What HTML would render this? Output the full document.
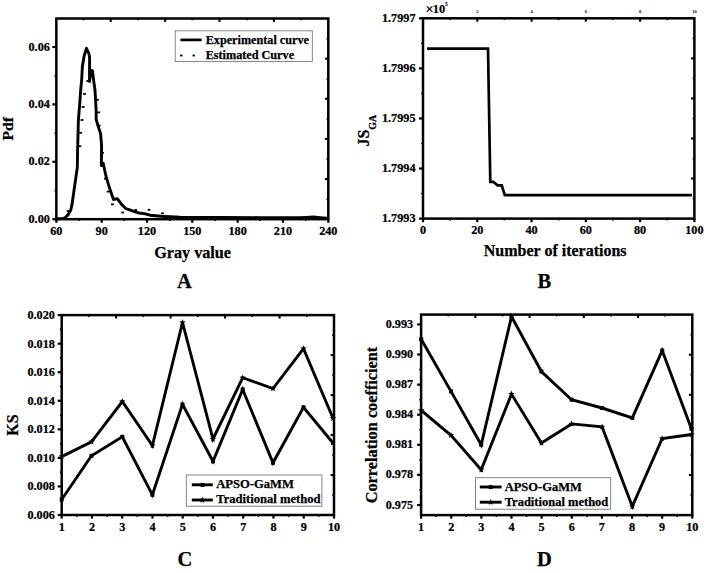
<!DOCTYPE html>
<html><head><meta charset="utf-8"><style>
html,body{margin:0;padding:0;background:#fff;}
body{width:708px;height:573px;overflow:hidden;position:relative;}
svg{position:absolute;left:0;top:0;display:block;}
text{font-family:"Liberation Serif",serif;font-weight:bold;fill:#000;stroke:#000;stroke-width:0.25px;}
</style></head><body>
<svg width="708" height="573" viewBox="0 0 708 573">
<rect x="56.35" y="18.5" width="271.95" height="200.7" fill="none" stroke="#000" stroke-width="2.5"/>
<line x1="56.35" y1="219.2" x2="56.35" y2="222.8" stroke="#000" stroke-width="2.2"/>
<text x="0" y="0" transform="translate(56.35,235) scale(0.955,1)" font-size="12.8" text-anchor="middle" >60</text>
<line x1="101.68" y1="219.2" x2="101.68" y2="222.8" stroke="#000" stroke-width="2.2"/>
<text x="0" y="0" transform="translate(101.68,235) scale(0.955,1)" font-size="12.8" text-anchor="middle" >90</text>
<line x1="147" y1="219.2" x2="147" y2="222.8" stroke="#000" stroke-width="2.2"/>
<text x="0" y="0" transform="translate(147,235) scale(0.955,1)" font-size="12.8" text-anchor="middle" >120</text>
<line x1="192.32" y1="219.2" x2="192.32" y2="222.8" stroke="#000" stroke-width="2.2"/>
<text x="0" y="0" transform="translate(192.32,235) scale(0.955,1)" font-size="12.8" text-anchor="middle" >150</text>
<line x1="237.65" y1="219.2" x2="237.65" y2="222.8" stroke="#000" stroke-width="2.2"/>
<text x="0" y="0" transform="translate(237.65,235) scale(0.955,1)" font-size="12.8" text-anchor="middle" >180</text>
<line x1="282.98" y1="219.2" x2="282.98" y2="222.8" stroke="#000" stroke-width="2.2"/>
<text x="0" y="0" transform="translate(282.98,235) scale(0.955,1)" font-size="12.8" text-anchor="middle" >210</text>
<line x1="328.3" y1="219.2" x2="328.3" y2="222.8" stroke="#000" stroke-width="2.2"/>
<text x="0" y="0" transform="translate(328.3,235) scale(0.955,1)" font-size="12.8" text-anchor="middle" >240</text>
<line x1="79.01" y1="219.2" x2="79.01" y2="221" stroke="#000" stroke-width="1.6"/>
<line x1="124.34" y1="219.2" x2="124.34" y2="221" stroke="#000" stroke-width="1.6"/>
<line x1="169.66" y1="219.2" x2="169.66" y2="221" stroke="#000" stroke-width="1.6"/>
<line x1="214.99" y1="219.2" x2="214.99" y2="221" stroke="#000" stroke-width="1.6"/>
<line x1="260.31" y1="219.2" x2="260.31" y2="221" stroke="#000" stroke-width="1.6"/>
<line x1="305.64" y1="219.2" x2="305.64" y2="221" stroke="#000" stroke-width="1.6"/>
<line x1="52.35" y1="219.2" x2="56.35" y2="219.2" stroke="#000" stroke-width="2.2"/>
<text x="0" y="0" transform="translate(49.85,222.7) scale(0.955,1)" font-size="12.8" text-anchor="end" >0.00</text>
<line x1="52.35" y1="161.8" x2="56.35" y2="161.8" stroke="#000" stroke-width="2.2"/>
<text x="0" y="0" transform="translate(49.85,165.3) scale(0.955,1)" font-size="12.8" text-anchor="end" >0.02</text>
<line x1="52.35" y1="104.4" x2="56.35" y2="104.4" stroke="#000" stroke-width="2.2"/>
<text x="0" y="0" transform="translate(49.85,107.9) scale(0.955,1)" font-size="12.8" text-anchor="end" >0.04</text>
<line x1="52.35" y1="47" x2="56.35" y2="47" stroke="#000" stroke-width="2.2"/>
<text x="0" y="0" transform="translate(49.85,50.5) scale(0.955,1)" font-size="12.8" text-anchor="end" >0.06</text>
<line x1="54.55" y1="190.5" x2="56.35" y2="190.5" stroke="#000" stroke-width="1.6"/>
<line x1="54.55" y1="133.1" x2="56.35" y2="133.1" stroke="#000" stroke-width="1.6"/>
<line x1="54.55" y1="75.7" x2="56.35" y2="75.7" stroke="#000" stroke-width="1.6"/>
<line x1="83.55" y1="18.5" x2="83.55" y2="20.3" stroke="#000" stroke-width="1.6"/>
<line x1="328.3" y1="38.57" x2="326.5" y2="38.57" stroke="#000" stroke-width="1.6"/>
<line x1="110.74" y1="18.5" x2="110.74" y2="21.9" stroke="#000" stroke-width="2.1"/>
<line x1="328.3" y1="58.64" x2="324.9" y2="58.64" stroke="#000" stroke-width="2.1"/>
<line x1="137.94" y1="18.5" x2="137.94" y2="20.3" stroke="#000" stroke-width="1.6"/>
<line x1="328.3" y1="78.71" x2="326.5" y2="78.71" stroke="#000" stroke-width="1.6"/>
<line x1="165.13" y1="18.5" x2="165.13" y2="21.9" stroke="#000" stroke-width="2.1"/>
<line x1="328.3" y1="98.78" x2="324.9" y2="98.78" stroke="#000" stroke-width="2.1"/>
<line x1="192.32" y1="18.5" x2="192.32" y2="20.3" stroke="#000" stroke-width="1.6"/>
<line x1="328.3" y1="118.85" x2="326.5" y2="118.85" stroke="#000" stroke-width="1.6"/>
<line x1="219.52" y1="18.5" x2="219.52" y2="21.9" stroke="#000" stroke-width="2.1"/>
<line x1="328.3" y1="138.92" x2="324.9" y2="138.92" stroke="#000" stroke-width="2.1"/>
<line x1="246.71" y1="18.5" x2="246.71" y2="20.3" stroke="#000" stroke-width="1.6"/>
<line x1="328.3" y1="158.99" x2="326.5" y2="158.99" stroke="#000" stroke-width="1.6"/>
<line x1="273.91" y1="18.5" x2="273.91" y2="21.9" stroke="#000" stroke-width="2.1"/>
<line x1="328.3" y1="179.06" x2="324.9" y2="179.06" stroke="#000" stroke-width="2.1"/>
<line x1="301.1" y1="18.5" x2="301.1" y2="20.3" stroke="#000" stroke-width="1.6"/>
<line x1="328.3" y1="199.13" x2="326.5" y2="199.13" stroke="#000" stroke-width="1.6"/>
<polyline points="56.4,218.8 62,218.6 65,217.8 68.2,214.6 70.7,210.2 71.9,205.2 74.4,187.6 77.3,167.6 77.6,150 78,135 78.4,120 79.8,102.9 80.7,90 81.7,79.3 82.4,66.2 84.2,55.7 86.5,48.3 89,54 89.6,57.4 89.5,81.5 90.8,70.5 92.4,70.8 93.7,81 95,90 95.6,100 96.1,110 96.2,119.6 97.8,125.2 100.6,133.6 101.6,146.2 101.3,165.5 103.2,163.2 106,176.2 109.2,187.1 113.5,199.5 117.3,198.7 121.6,204.4 126,208.7 132.5,210.9 139,213 144.4,213.6 150,215.2 161,216.3 180,217.2 220,217.4 260,217.6 299.5,217.7 306,217.4 313.4,216.9 320,217.6 327,218.3" fill="none" stroke="#000" stroke-width="2.9" stroke-linejoin="round" stroke-miterlimit="3"/>
<rect x="66.8" y="210.2" width="2.8" height="1.8" fill="#000"/>
<rect x="78.5" y="145.3" width="2.8" height="1.8" fill="#000"/>
<rect x="79.2" y="131.9" width="2.8" height="1.8" fill="#000"/>
<rect x="80.6" y="119.1" width="2.8" height="1.8" fill="#000"/>
<rect x="81.7" y="106" width="2.8" height="1.8" fill="#000"/>
<rect x="83.1" y="93" width="2.8" height="1.8" fill="#000"/>
<rect x="86.4" y="80.1" width="2.8" height="1.8" fill="#000"/>
<rect x="96.1" y="98.9" width="2.8" height="1.8" fill="#000"/>
<rect x="97.3" y="111.5" width="2.8" height="1.8" fill="#000"/>
<rect x="97.8" y="124.7" width="2.8" height="1.8" fill="#000"/>
<rect x="101.1" y="152" width="2.8" height="1.8" fill="#000"/>
<rect x="104" y="177.7" width="2.8" height="1.8" fill="#000"/>
<rect x="106.7" y="190.7" width="2.8" height="1.8" fill="#000"/>
<rect x="111" y="203.5" width="2.8" height="1.8" fill="#000"/>
<rect x="121.3" y="211.6" width="2.8" height="1.8" fill="#000"/>
<rect x="134.3" y="209.1" width="2.8" height="1.8" fill="#000"/>
<rect x="147.6" y="208.9" width="2.8" height="1.8" fill="#000"/>
<rect x="161.1" y="212.4" width="2.8" height="1.8" fill="#000"/>
<rect x="175.2" y="30.8" width="137.1" height="30.6" fill="#fff" stroke="#777" stroke-width="0.9"/>
<line x1="180.4" y1="39.9" x2="201.6" y2="39.9" stroke="#000" stroke-width="2.7"/>
<rect x="180.1" y="54.6" width="2.4" height="1.8" fill="#000"/>
<rect x="192.5" y="54.6" width="2.4" height="1.8" fill="#000"/>
<text x="205.7" y="43.7" font-size="12.2" text-anchor="start" >Experimental curve</text>
<text x="205.7" y="58.9" font-size="12.2" text-anchor="start" >Estimated Curve</text>
<text x="192.6" y="258.2" font-size="16.2" text-anchor="middle" >Gray value</text>
<text x="184.4" y="288.4" font-size="20.5" text-anchor="middle" >A</text>
<text x="0" y="0" font-size="15.6" text-anchor="middle" transform="translate(13.2,128.8) rotate(-90)">Pdf</text>
<rect x="423" y="18.3" width="271.4" height="200.3" fill="none" stroke="#000" stroke-width="2.5"/>
<line x1="423" y1="218.6" x2="423" y2="222.2" stroke="#000" stroke-width="2.2"/>
<text x="0" y="0" transform="translate(423,234.2) scale(0.955,1)" font-size="12.8" text-anchor="middle" >0</text>
<line x1="477.28" y1="218.6" x2="477.28" y2="222.2" stroke="#000" stroke-width="2.2"/>
<text x="0" y="0" transform="translate(477.28,234.2) scale(0.955,1)" font-size="12.8" text-anchor="middle" >20</text>
<text x="477.28" y="13.3" font-size="4.5" text-anchor="middle" fill="#aaa" font-weight="normal" style="stroke:none">2</text>
<line x1="531.56" y1="218.6" x2="531.56" y2="222.2" stroke="#000" stroke-width="2.2"/>
<text x="0" y="0" transform="translate(531.56,234.2) scale(0.955,1)" font-size="12.8" text-anchor="middle" >40</text>
<text x="531.56" y="13.3" font-size="4.5" text-anchor="middle" fill="#aaa" font-weight="normal" style="stroke:none">4</text>
<line x1="585.84" y1="218.6" x2="585.84" y2="222.2" stroke="#000" stroke-width="2.2"/>
<text x="0" y="0" transform="translate(585.84,234.2) scale(0.955,1)" font-size="12.8" text-anchor="middle" >60</text>
<text x="585.84" y="13.3" font-size="4.5" text-anchor="middle" fill="#aaa" font-weight="normal" style="stroke:none">6</text>
<line x1="640.12" y1="218.6" x2="640.12" y2="222.2" stroke="#000" stroke-width="2.2"/>
<text x="0" y="0" transform="translate(640.12,234.2) scale(0.955,1)" font-size="12.8" text-anchor="middle" >80</text>
<text x="640.12" y="13.3" font-size="4.5" text-anchor="middle" fill="#aaa" font-weight="normal" style="stroke:none">8</text>
<line x1="694.4" y1="218.6" x2="694.4" y2="222.2" stroke="#000" stroke-width="2.2"/>
<text x="0" y="0" transform="translate(694.4,234.2) scale(0.955,1)" font-size="12.8" text-anchor="middle" >100</text>
<text x="694.4" y="13.3" font-size="4.5" text-anchor="middle" fill="#aaa" font-weight="normal" style="stroke:none">10</text>
<line x1="450.14" y1="218.6" x2="450.14" y2="220.4" stroke="#000" stroke-width="1.6"/>
<line x1="504.42" y1="218.6" x2="504.42" y2="220.4" stroke="#000" stroke-width="1.6"/>
<line x1="558.7" y1="218.6" x2="558.7" y2="220.4" stroke="#000" stroke-width="1.6"/>
<line x1="612.98" y1="218.6" x2="612.98" y2="220.4" stroke="#000" stroke-width="1.6"/>
<line x1="667.26" y1="218.6" x2="667.26" y2="220.4" stroke="#000" stroke-width="1.6"/>
<line x1="419" y1="218.6" x2="423" y2="218.6" stroke="#000" stroke-width="2.2"/>
<text x="0" y="0" transform="translate(415.5,222.1) scale(0.955,1)" font-size="12.8" text-anchor="end" >1.7993</text>
<line x1="419" y1="168.53" x2="423" y2="168.53" stroke="#000" stroke-width="2.2"/>
<text x="0" y="0" transform="translate(415.5,172.03) scale(0.955,1)" font-size="12.8" text-anchor="end" >1.7994</text>
<line x1="419" y1="118.45" x2="423" y2="118.45" stroke="#000" stroke-width="2.2"/>
<text x="0" y="0" transform="translate(415.5,121.95) scale(0.955,1)" font-size="12.8" text-anchor="end" >1.7995</text>
<line x1="419" y1="68.38" x2="423" y2="68.38" stroke="#000" stroke-width="2.2"/>
<text x="0" y="0" transform="translate(415.5,71.88) scale(0.955,1)" font-size="12.8" text-anchor="end" >1.7996</text>
<line x1="419" y1="18.3" x2="423" y2="18.3" stroke="#000" stroke-width="2.2"/>
<text x="0" y="0" transform="translate(415.5,21.8) scale(0.955,1)" font-size="12.8" text-anchor="end" >1.7997</text>
<line x1="421.2" y1="193.56" x2="423" y2="193.56" stroke="#000" stroke-width="1.6"/>
<line x1="421.2" y1="143.49" x2="423" y2="143.49" stroke="#000" stroke-width="1.6"/>
<line x1="421.2" y1="93.41" x2="423" y2="93.41" stroke="#000" stroke-width="1.6"/>
<line x1="421.2" y1="43.34" x2="423" y2="43.34" stroke="#000" stroke-width="1.6"/>
<line x1="450.14" y1="18.3" x2="450.14" y2="20.1" stroke="#000" stroke-width="1.6"/>
<line x1="694.4" y1="38.33" x2="692.6" y2="38.33" stroke="#000" stroke-width="1.6"/>
<line x1="477.28" y1="18.3" x2="477.28" y2="21.7" stroke="#000" stroke-width="2.1"/>
<line x1="694.4" y1="58.36" x2="691" y2="58.36" stroke="#000" stroke-width="2.1"/>
<line x1="504.42" y1="18.3" x2="504.42" y2="20.1" stroke="#000" stroke-width="1.6"/>
<line x1="694.4" y1="78.39" x2="692.6" y2="78.39" stroke="#000" stroke-width="1.6"/>
<line x1="531.56" y1="18.3" x2="531.56" y2="21.7" stroke="#000" stroke-width="2.1"/>
<line x1="694.4" y1="98.42" x2="691" y2="98.42" stroke="#000" stroke-width="2.1"/>
<line x1="558.7" y1="18.3" x2="558.7" y2="20.1" stroke="#000" stroke-width="1.6"/>
<line x1="694.4" y1="118.45" x2="692.6" y2="118.45" stroke="#000" stroke-width="1.6"/>
<line x1="585.84" y1="18.3" x2="585.84" y2="21.7" stroke="#000" stroke-width="2.1"/>
<line x1="694.4" y1="138.48" x2="691" y2="138.48" stroke="#000" stroke-width="2.1"/>
<line x1="612.98" y1="18.3" x2="612.98" y2="20.1" stroke="#000" stroke-width="1.6"/>
<line x1="694.4" y1="158.51" x2="692.6" y2="158.51" stroke="#000" stroke-width="1.6"/>
<line x1="640.12" y1="18.3" x2="640.12" y2="21.7" stroke="#000" stroke-width="2.1"/>
<line x1="694.4" y1="178.54" x2="691" y2="178.54" stroke="#000" stroke-width="2.1"/>
<line x1="667.26" y1="18.3" x2="667.26" y2="20.1" stroke="#000" stroke-width="1.6"/>
<line x1="694.4" y1="198.57" x2="692.6" y2="198.57" stroke="#000" stroke-width="1.6"/>
<polyline points="427,48.6 488,48.6 490.3,181.8 493.3,181.8 497.5,185.3 501.7,185.3 504.8,195.2 692,195.2" fill="none" stroke="#000" stroke-width="2.7" stroke-linejoin="miter" stroke-miterlimit="3"/>
<text x="425.2" y="14.1" font-size="15" text-anchor="start" font-weight="normal" style="stroke-width:0.1px">×</text>
<text x="432.8" y="12.7" font-size="12.5" text-anchor="start" font-weight="normal" style="stroke-width:0.15px">10</text>
<text x="444.9" y="5.7" font-size="5.5" text-anchor="start" font-weight="normal" style="stroke-width:0.1px">5</text>
<text x="555.2" y="255.5" font-size="16" text-anchor="middle" >Number of iterations</text>
<text x="544.4" y="288.4" font-size="20.5" text-anchor="middle" >B</text>
<text x="0" y="0" font-size="16" transform="translate(368.7,146.6) rotate(-90)">JS<tspan font-size="10" dy="6.8">GA</tspan></text>
<rect x="61.7" y="315.1" width="272.3" height="199.9" fill="none" stroke="#000" stroke-width="2.5"/>
<line x1="61.7" y1="515" x2="61.7" y2="518.6" stroke="#000" stroke-width="2.2"/>
<text x="0" y="0" transform="translate(61.7,531.3) scale(0.955,1)" font-size="12.8" text-anchor="middle" >1</text>
<line x1="91.96" y1="515" x2="91.96" y2="518.6" stroke="#000" stroke-width="2.2"/>
<text x="0" y="0" transform="translate(91.96,531.3) scale(0.955,1)" font-size="12.8" text-anchor="middle" >2</text>
<line x1="122.21" y1="515" x2="122.21" y2="518.6" stroke="#000" stroke-width="2.2"/>
<text x="0" y="0" transform="translate(122.21,531.3) scale(0.955,1)" font-size="12.8" text-anchor="middle" >3</text>
<line x1="152.47" y1="515" x2="152.47" y2="518.6" stroke="#000" stroke-width="2.2"/>
<text x="0" y="0" transform="translate(152.47,531.3) scale(0.955,1)" font-size="12.8" text-anchor="middle" >4</text>
<line x1="182.72" y1="515" x2="182.72" y2="518.6" stroke="#000" stroke-width="2.2"/>
<text x="0" y="0" transform="translate(182.72,531.3) scale(0.955,1)" font-size="12.8" text-anchor="middle" >5</text>
<line x1="212.98" y1="515" x2="212.98" y2="518.6" stroke="#000" stroke-width="2.2"/>
<text x="0" y="0" transform="translate(212.98,531.3) scale(0.955,1)" font-size="12.8" text-anchor="middle" >6</text>
<line x1="243.23" y1="515" x2="243.23" y2="518.6" stroke="#000" stroke-width="2.2"/>
<text x="0" y="0" transform="translate(243.23,531.3) scale(0.955,1)" font-size="12.8" text-anchor="middle" >7</text>
<line x1="273.49" y1="515" x2="273.49" y2="518.6" stroke="#000" stroke-width="2.2"/>
<text x="0" y="0" transform="translate(273.49,531.3) scale(0.955,1)" font-size="12.8" text-anchor="middle" >8</text>
<line x1="303.74" y1="515" x2="303.74" y2="518.6" stroke="#000" stroke-width="2.2"/>
<text x="0" y="0" transform="translate(303.74,531.3) scale(0.955,1)" font-size="12.8" text-anchor="middle" >9</text>
<line x1="334" y1="515" x2="334" y2="518.6" stroke="#000" stroke-width="2.2"/>
<text x="0" y="0" transform="translate(334,531.3) scale(0.955,1)" font-size="12.8" text-anchor="middle" >10</text>
<line x1="76.83" y1="515" x2="76.83" y2="516.8" stroke="#000" stroke-width="1.6"/>
<line x1="107.08" y1="515" x2="107.08" y2="516.8" stroke="#000" stroke-width="1.6"/>
<line x1="137.34" y1="515" x2="137.34" y2="516.8" stroke="#000" stroke-width="1.6"/>
<line x1="167.59" y1="515" x2="167.59" y2="516.8" stroke="#000" stroke-width="1.6"/>
<line x1="197.85" y1="515" x2="197.85" y2="516.8" stroke="#000" stroke-width="1.6"/>
<line x1="228.11" y1="515" x2="228.11" y2="516.8" stroke="#000" stroke-width="1.6"/>
<line x1="258.36" y1="515" x2="258.36" y2="516.8" stroke="#000" stroke-width="1.6"/>
<line x1="288.62" y1="515" x2="288.62" y2="516.8" stroke="#000" stroke-width="1.6"/>
<line x1="318.87" y1="515" x2="318.87" y2="516.8" stroke="#000" stroke-width="1.6"/>
<line x1="57.7" y1="515" x2="61.7" y2="515" stroke="#000" stroke-width="2.2"/>
<text x="0" y="0" transform="translate(54.9,518.9) scale(0.955,1)" font-size="12.8" text-anchor="end" >0.006</text>
<line x1="57.7" y1="486.44" x2="61.7" y2="486.44" stroke="#000" stroke-width="2.2"/>
<text x="0" y="0" transform="translate(54.9,490.34) scale(0.955,1)" font-size="12.8" text-anchor="end" >0.008</text>
<line x1="57.7" y1="457.89" x2="61.7" y2="457.89" stroke="#000" stroke-width="2.2"/>
<text x="0" y="0" transform="translate(54.9,461.79) scale(0.955,1)" font-size="12.8" text-anchor="end" >0.010</text>
<line x1="57.7" y1="429.33" x2="61.7" y2="429.33" stroke="#000" stroke-width="2.2"/>
<text x="0" y="0" transform="translate(54.9,433.23) scale(0.955,1)" font-size="12.8" text-anchor="end" >0.012</text>
<line x1="57.7" y1="400.77" x2="61.7" y2="400.77" stroke="#000" stroke-width="2.2"/>
<text x="0" y="0" transform="translate(54.9,404.67) scale(0.955,1)" font-size="12.8" text-anchor="end" >0.014</text>
<line x1="57.7" y1="372.21" x2="61.7" y2="372.21" stroke="#000" stroke-width="2.2"/>
<text x="0" y="0" transform="translate(54.9,376.11) scale(0.955,1)" font-size="12.8" text-anchor="end" >0.016</text>
<line x1="57.7" y1="343.66" x2="61.7" y2="343.66" stroke="#000" stroke-width="2.2"/>
<text x="0" y="0" transform="translate(54.9,347.56) scale(0.955,1)" font-size="12.8" text-anchor="end" >0.018</text>
<line x1="57.7" y1="315.1" x2="61.7" y2="315.1" stroke="#000" stroke-width="2.2"/>
<text x="0" y="0" transform="translate(54.9,319) scale(0.955,1)" font-size="12.8" text-anchor="end" >0.020</text>
<line x1="59.9" y1="500.72" x2="61.7" y2="500.72" stroke="#000" stroke-width="1.6"/>
<line x1="59.9" y1="472.16" x2="61.7" y2="472.16" stroke="#000" stroke-width="1.6"/>
<line x1="59.9" y1="443.61" x2="61.7" y2="443.61" stroke="#000" stroke-width="1.6"/>
<line x1="59.9" y1="415.05" x2="61.7" y2="415.05" stroke="#000" stroke-width="1.6"/>
<line x1="59.9" y1="386.49" x2="61.7" y2="386.49" stroke="#000" stroke-width="1.6"/>
<line x1="59.9" y1="357.94" x2="61.7" y2="357.94" stroke="#000" stroke-width="1.6"/>
<line x1="59.9" y1="329.38" x2="61.7" y2="329.38" stroke="#000" stroke-width="1.6"/>
<line x1="88.93" y1="315.1" x2="88.93" y2="316.9" stroke="#000" stroke-width="1.6"/>
<line x1="334" y1="335.09" x2="332.2" y2="335.09" stroke="#000" stroke-width="1.6"/>
<line x1="116.16" y1="315.1" x2="116.16" y2="318.5" stroke="#000" stroke-width="2.1"/>
<line x1="334" y1="355.08" x2="330.6" y2="355.08" stroke="#000" stroke-width="2.1"/>
<line x1="143.39" y1="315.1" x2="143.39" y2="316.9" stroke="#000" stroke-width="1.6"/>
<line x1="334" y1="375.07" x2="332.2" y2="375.07" stroke="#000" stroke-width="1.6"/>
<line x1="170.62" y1="315.1" x2="170.62" y2="318.5" stroke="#000" stroke-width="2.1"/>
<line x1="334" y1="395.06" x2="330.6" y2="395.06" stroke="#000" stroke-width="2.1"/>
<line x1="197.85" y1="315.1" x2="197.85" y2="316.9" stroke="#000" stroke-width="1.6"/>
<line x1="334" y1="415.05" x2="332.2" y2="415.05" stroke="#000" stroke-width="1.6"/>
<line x1="225.08" y1="315.1" x2="225.08" y2="318.5" stroke="#000" stroke-width="2.1"/>
<line x1="334" y1="435.04" x2="330.6" y2="435.04" stroke="#000" stroke-width="2.1"/>
<line x1="252.31" y1="315.1" x2="252.31" y2="316.9" stroke="#000" stroke-width="1.6"/>
<line x1="334" y1="455.03" x2="332.2" y2="455.03" stroke="#000" stroke-width="1.6"/>
<line x1="279.54" y1="315.1" x2="279.54" y2="318.5" stroke="#000" stroke-width="2.1"/>
<line x1="334" y1="475.02" x2="330.6" y2="475.02" stroke="#000" stroke-width="2.1"/>
<line x1="306.77" y1="315.1" x2="306.77" y2="316.9" stroke="#000" stroke-width="1.6"/>
<line x1="334" y1="495.01" x2="332.2" y2="495.01" stroke="#000" stroke-width="1.6"/>
<polyline points="61.7,456.6 91.5,441.8 122.3,401.5 152.4,445.5 182.5,322.5 213,439 242.7,377.7 273,388.6 303.5,348.6 333,418.3" fill="none" stroke="#000" stroke-width="2.9" stroke-linejoin="miter" stroke-miterlimit="3"/>
<polyline points="61.7,499.5 91.5,455.8 122.3,436.8 152.4,494.8 182.5,404.4 213,461.3 242.7,389.5 273,462.8 303.5,407.3 333,443" fill="none" stroke="#000" stroke-width="2.9" stroke-linejoin="miter" stroke-miterlimit="3"/>
<rect x="59.7" y="497.5" width="4" height="4" fill="#000"/>
<rect x="89.5" y="453.8" width="4" height="4" fill="#000"/>
<rect x="120.3" y="434.8" width="4" height="4" fill="#000"/>
<rect x="150.4" y="492.8" width="4" height="4" fill="#000"/>
<rect x="180.5" y="402.4" width="4" height="4" fill="#000"/>
<rect x="211" y="459.3" width="4" height="4" fill="#000"/>
<rect x="240.7" y="387.5" width="4" height="4" fill="#000"/>
<rect x="271" y="460.8" width="4" height="4" fill="#000"/>
<rect x="301.5" y="405.3" width="4" height="4" fill="#000"/>
<rect x="331" y="441" width="4" height="4" fill="#000"/>
<polygon points="61.7,453.3 62.57,455.4 64.84,455.58 63.11,457.06 63.64,459.27 61.7,458.09 59.76,459.27 60.29,457.06 58.56,455.58 60.83,455.4" fill="#000"/>
<polygon points="91.5,438.5 92.37,440.6 94.64,440.78 92.91,442.26 93.44,444.47 91.5,443.29 89.56,444.47 90.09,442.26 88.36,440.78 90.63,440.6" fill="#000"/>
<polygon points="122.3,398.2 123.17,400.3 125.44,400.48 123.71,401.96 124.24,404.17 122.3,402.99 120.36,404.17 120.89,401.96 119.16,400.48 121.43,400.3" fill="#000"/>
<polygon points="152.4,442.2 153.27,444.3 155.54,444.48 153.81,445.96 154.34,448.17 152.4,446.99 150.46,448.17 150.99,445.96 149.26,444.48 151.53,444.3" fill="#000"/>
<polygon points="182.5,319.2 183.37,321.3 185.64,321.48 183.91,322.96 184.44,325.17 182.5,323.99 180.56,325.17 181.09,322.96 179.36,321.48 181.63,321.3" fill="#000"/>
<polygon points="213,435.7 213.87,437.8 216.14,437.98 214.41,439.46 214.94,441.67 213,440.49 211.06,441.67 211.59,439.46 209.86,437.98 212.13,437.8" fill="#000"/>
<polygon points="242.7,374.4 243.57,376.5 245.84,376.68 244.11,378.16 244.64,380.37 242.7,379.19 240.76,380.37 241.29,378.16 239.56,376.68 241.83,376.5" fill="#000"/>
<polygon points="273,385.3 273.87,387.4 276.14,387.58 274.41,389.06 274.94,391.27 273,390.09 271.06,391.27 271.59,389.06 269.86,387.58 272.13,387.4" fill="#000"/>
<polygon points="303.5,345.3 304.37,347.4 306.64,347.58 304.91,349.06 305.44,351.27 303.5,350.09 301.56,351.27 302.09,349.06 300.36,347.58 302.63,347.4" fill="#000"/>
<polygon points="333,415 333.87,417.1 336.14,417.28 334.41,418.76 334.94,420.97 333,419.79 331.06,420.97 331.59,418.76 329.86,417.28 332.13,417.1" fill="#000"/>
<rect x="186.3" y="475" width="135.6" height="31.2" fill="#fff" stroke="#777" stroke-width="0.9"/>
<line x1="191.8" y1="484.8" x2="212.8" y2="484.8" stroke="#000" stroke-width="2.9"/>
<rect x="200.5" y="482.9" width="4" height="4" fill="#000"/>
<line x1="191.8" y1="500" x2="212.8" y2="500" stroke="#000" stroke-width="2.9"/>
<polygon points="202.3,496.7 203.17,498.8 205.44,498.98 203.71,500.46 204.24,502.67 202.3,501.49 200.36,502.67 200.89,500.46 199.16,498.98 201.43,498.8" fill="#000"/>
<text x="216.2" y="488.3" font-size="12.6" text-anchor="start" >APSO-GaMM</text>
<text x="216.2" y="503.4" font-size="12.6" text-anchor="start" >Traditional method</text>
<text x="184.8" y="566.1" font-size="20.5" text-anchor="middle" >C</text>
<text x="0" y="0" font-size="16" text-anchor="middle" transform="translate(18,425) rotate(-90)">KS</text>
<rect x="421.1" y="314.6" width="271.2" height="200.5" fill="none" stroke="#000" stroke-width="2.5"/>
<line x1="421.1" y1="515.1" x2="421.1" y2="518.7" stroke="#000" stroke-width="2.2"/>
<text x="0" y="0" transform="translate(421.1,531.4) scale(0.955,1)" font-size="12.8" text-anchor="middle" >1</text>
<line x1="451.23" y1="515.1" x2="451.23" y2="518.7" stroke="#000" stroke-width="2.2"/>
<text x="0" y="0" transform="translate(451.23,531.4) scale(0.955,1)" font-size="12.8" text-anchor="middle" >2</text>
<line x1="481.37" y1="515.1" x2="481.37" y2="518.7" stroke="#000" stroke-width="2.2"/>
<text x="0" y="0" transform="translate(481.37,531.4) scale(0.955,1)" font-size="12.8" text-anchor="middle" >3</text>
<line x1="511.5" y1="515.1" x2="511.5" y2="518.7" stroke="#000" stroke-width="2.2"/>
<text x="0" y="0" transform="translate(511.5,531.4) scale(0.955,1)" font-size="12.8" text-anchor="middle" >4</text>
<line x1="541.63" y1="515.1" x2="541.63" y2="518.7" stroke="#000" stroke-width="2.2"/>
<text x="0" y="0" transform="translate(541.63,531.4) scale(0.955,1)" font-size="12.8" text-anchor="middle" >5</text>
<line x1="571.77" y1="515.1" x2="571.77" y2="518.7" stroke="#000" stroke-width="2.2"/>
<text x="0" y="0" transform="translate(571.77,531.4) scale(0.955,1)" font-size="12.8" text-anchor="middle" >6</text>
<line x1="601.9" y1="515.1" x2="601.9" y2="518.7" stroke="#000" stroke-width="2.2"/>
<text x="0" y="0" transform="translate(601.9,531.4) scale(0.955,1)" font-size="12.8" text-anchor="middle" >7</text>
<line x1="632.03" y1="515.1" x2="632.03" y2="518.7" stroke="#000" stroke-width="2.2"/>
<text x="0" y="0" transform="translate(632.03,531.4) scale(0.955,1)" font-size="12.8" text-anchor="middle" >8</text>
<line x1="662.17" y1="515.1" x2="662.17" y2="518.7" stroke="#000" stroke-width="2.2"/>
<text x="0" y="0" transform="translate(662.17,531.4) scale(0.955,1)" font-size="12.8" text-anchor="middle" >9</text>
<line x1="692.3" y1="515.1" x2="692.3" y2="518.7" stroke="#000" stroke-width="2.2"/>
<text x="0" y="0" transform="translate(692.3,531.4) scale(0.955,1)" font-size="12.8" text-anchor="middle" >10</text>
<line x1="436.17" y1="515.1" x2="436.17" y2="516.9" stroke="#000" stroke-width="1.6"/>
<line x1="466.3" y1="515.1" x2="466.3" y2="516.9" stroke="#000" stroke-width="1.6"/>
<line x1="496.43" y1="515.1" x2="496.43" y2="516.9" stroke="#000" stroke-width="1.6"/>
<line x1="526.57" y1="515.1" x2="526.57" y2="516.9" stroke="#000" stroke-width="1.6"/>
<line x1="556.7" y1="515.1" x2="556.7" y2="516.9" stroke="#000" stroke-width="1.6"/>
<line x1="586.83" y1="515.1" x2="586.83" y2="516.9" stroke="#000" stroke-width="1.6"/>
<line x1="616.97" y1="515.1" x2="616.97" y2="516.9" stroke="#000" stroke-width="1.6"/>
<line x1="647.1" y1="515.1" x2="647.1" y2="516.9" stroke="#000" stroke-width="1.6"/>
<line x1="677.23" y1="515.1" x2="677.23" y2="516.9" stroke="#000" stroke-width="1.6"/>
<line x1="417.1" y1="505" x2="421.1" y2="505" stroke="#000" stroke-width="2.2"/>
<text x="0" y="0" transform="translate(413.1,508.5) scale(0.955,1)" font-size="12.8" text-anchor="end" >0.975</text>
<line x1="417.1" y1="474.9" x2="421.1" y2="474.9" stroke="#000" stroke-width="2.2"/>
<text x="0" y="0" transform="translate(413.1,478.4) scale(0.955,1)" font-size="12.8" text-anchor="end" >0.978</text>
<line x1="417.1" y1="444.8" x2="421.1" y2="444.8" stroke="#000" stroke-width="2.2"/>
<text x="0" y="0" transform="translate(413.1,448.3) scale(0.955,1)" font-size="12.8" text-anchor="end" >0.981</text>
<line x1="417.1" y1="414.7" x2="421.1" y2="414.7" stroke="#000" stroke-width="2.2"/>
<text x="0" y="0" transform="translate(413.1,418.2) scale(0.955,1)" font-size="12.8" text-anchor="end" >0.984</text>
<line x1="417.1" y1="384.6" x2="421.1" y2="384.6" stroke="#000" stroke-width="2.2"/>
<text x="0" y="0" transform="translate(413.1,388.1) scale(0.955,1)" font-size="12.8" text-anchor="end" >0.987</text>
<line x1="417.1" y1="354.5" x2="421.1" y2="354.5" stroke="#000" stroke-width="2.2"/>
<text x="0" y="0" transform="translate(413.1,358) scale(0.955,1)" font-size="12.8" text-anchor="end" >0.990</text>
<line x1="417.1" y1="324.4" x2="421.1" y2="324.4" stroke="#000" stroke-width="2.2"/>
<text x="0" y="0" transform="translate(413.1,327.9) scale(0.955,1)" font-size="12.8" text-anchor="end" >0.993</text>
<line x1="419.3" y1="489.95" x2="421.1" y2="489.95" stroke="#000" stroke-width="1.6"/>
<line x1="419.3" y1="459.85" x2="421.1" y2="459.85" stroke="#000" stroke-width="1.6"/>
<line x1="419.3" y1="429.75" x2="421.1" y2="429.75" stroke="#000" stroke-width="1.6"/>
<line x1="419.3" y1="399.65" x2="421.1" y2="399.65" stroke="#000" stroke-width="1.6"/>
<line x1="419.3" y1="369.55" x2="421.1" y2="369.55" stroke="#000" stroke-width="1.6"/>
<line x1="419.3" y1="339.45" x2="421.1" y2="339.45" stroke="#000" stroke-width="1.6"/>
<line x1="448.22" y1="314.6" x2="448.22" y2="316.4" stroke="#000" stroke-width="1.6"/>
<line x1="692.3" y1="334.65" x2="690.5" y2="334.65" stroke="#000" stroke-width="1.6"/>
<line x1="475.34" y1="314.6" x2="475.34" y2="318" stroke="#000" stroke-width="2.1"/>
<line x1="692.3" y1="354.7" x2="688.9" y2="354.7" stroke="#000" stroke-width="2.1"/>
<line x1="502.46" y1="314.6" x2="502.46" y2="316.4" stroke="#000" stroke-width="1.6"/>
<line x1="692.3" y1="374.75" x2="690.5" y2="374.75" stroke="#000" stroke-width="1.6"/>
<line x1="529.58" y1="314.6" x2="529.58" y2="318" stroke="#000" stroke-width="2.1"/>
<line x1="692.3" y1="394.8" x2="688.9" y2="394.8" stroke="#000" stroke-width="2.1"/>
<line x1="556.7" y1="314.6" x2="556.7" y2="316.4" stroke="#000" stroke-width="1.6"/>
<line x1="692.3" y1="414.85" x2="690.5" y2="414.85" stroke="#000" stroke-width="1.6"/>
<line x1="583.82" y1="314.6" x2="583.82" y2="318" stroke="#000" stroke-width="2.1"/>
<line x1="692.3" y1="434.9" x2="688.9" y2="434.9" stroke="#000" stroke-width="2.1"/>
<line x1="610.94" y1="314.6" x2="610.94" y2="316.4" stroke="#000" stroke-width="1.6"/>
<line x1="692.3" y1="454.95" x2="690.5" y2="454.95" stroke="#000" stroke-width="1.6"/>
<line x1="638.06" y1="314.6" x2="638.06" y2="318" stroke="#000" stroke-width="2.1"/>
<line x1="692.3" y1="475" x2="688.9" y2="475" stroke="#000" stroke-width="2.1"/>
<line x1="665.18" y1="314.6" x2="665.18" y2="316.4" stroke="#000" stroke-width="1.6"/>
<line x1="692.3" y1="495.05" x2="690.5" y2="495.05" stroke="#000" stroke-width="1.6"/>
<polyline points="421.2,339.2 451,391.4 481.2,444.8 511.5,316.6 541.4,371.5 571.6,399.7 602.1,408 632.3,417.9 662.2,350.6 691.5,428.9" fill="none" stroke="#000" stroke-width="2.9" stroke-linejoin="miter" stroke-miterlimit="3"/>
<polyline points="421.2,410.3 451,435.3 481.2,469.8 511.5,394.1 541.4,443 571.6,423.9 602.1,426.9 632.3,506.4 662.2,438.5 691.5,434.5" fill="none" stroke="#000" stroke-width="2.9" stroke-linejoin="miter" stroke-miterlimit="3"/>
<rect x="419.2" y="337.2" width="4" height="4" fill="#000"/>
<rect x="449" y="389.4" width="4" height="4" fill="#000"/>
<rect x="479.2" y="442.8" width="4" height="4" fill="#000"/>
<rect x="509.5" y="314.6" width="4" height="4" fill="#000"/>
<rect x="539.4" y="369.5" width="4" height="4" fill="#000"/>
<rect x="569.6" y="397.7" width="4" height="4" fill="#000"/>
<rect x="600.1" y="406" width="4" height="4" fill="#000"/>
<rect x="630.3" y="415.9" width="4" height="4" fill="#000"/>
<rect x="660.2" y="348.6" width="4" height="4" fill="#000"/>
<rect x="689.5" y="426.9" width="4" height="4" fill="#000"/>
<polygon points="421.2,407 422.07,409.1 424.34,409.28 422.61,410.76 423.14,412.97 421.2,411.79 419.26,412.97 419.79,410.76 418.06,409.28 420.33,409.1" fill="#000"/>
<polygon points="451,432 451.87,434.1 454.14,434.28 452.41,435.76 452.94,437.97 451,436.79 449.06,437.97 449.59,435.76 447.86,434.28 450.13,434.1" fill="#000"/>
<polygon points="481.2,466.5 482.07,468.6 484.34,468.78 482.61,470.26 483.14,472.47 481.2,471.29 479.26,472.47 479.79,470.26 478.06,468.78 480.33,468.6" fill="#000"/>
<polygon points="511.5,390.8 512.37,392.9 514.64,393.08 512.91,394.56 513.44,396.77 511.5,395.59 509.56,396.77 510.09,394.56 508.36,393.08 510.63,392.9" fill="#000"/>
<polygon points="541.4,439.7 542.27,441.8 544.54,441.98 542.81,443.46 543.34,445.67 541.4,444.49 539.46,445.67 539.99,443.46 538.26,441.98 540.53,441.8" fill="#000"/>
<polygon points="571.6,420.6 572.47,422.7 574.74,422.88 573.01,424.36 573.54,426.57 571.6,425.38 569.66,426.57 570.19,424.36 568.46,422.88 570.73,422.7" fill="#000"/>
<polygon points="602.1,423.6 602.97,425.7 605.24,425.88 603.51,427.36 604.04,429.57 602.1,428.38 600.16,429.57 600.69,427.36 598.96,425.88 601.23,425.7" fill="#000"/>
<polygon points="632.3,503.1 633.17,505.2 635.44,505.38 633.71,506.86 634.24,509.07 632.3,507.88 630.36,509.07 630.89,506.86 629.16,505.38 631.43,505.2" fill="#000"/>
<polygon points="662.2,435.2 663.07,437.3 665.34,437.48 663.61,438.96 664.14,441.17 662.2,439.99 660.26,441.17 660.79,438.96 659.06,437.48 661.33,437.3" fill="#000"/>
<polygon points="691.5,431.2 692.37,433.3 694.64,433.48 692.91,434.96 693.44,437.17 691.5,435.99 689.56,437.17 690.09,434.96 688.36,433.48 690.63,433.3" fill="#000"/>
<rect x="475.5" y="477.7" width="135.2" height="31.5" fill="#fff" stroke="#777" stroke-width="0.9"/>
<line x1="479.8" y1="487" x2="501.6" y2="487" stroke="#000" stroke-width="2.9"/>
<rect x="488.7" y="485" width="4" height="4" fill="#000"/>
<line x1="479.8" y1="502.2" x2="501.6" y2="502.2" stroke="#000" stroke-width="2.9"/>
<polygon points="490.7,498.9 491.57,501 493.84,501.18 492.11,502.66 492.64,504.87 490.7,503.69 488.76,504.87 489.29,502.66 487.56,501.18 489.83,501" fill="#000"/>
<text x="504.7" y="490.8" font-size="12.5" text-anchor="start" >APSO-GaMM</text>
<text x="504.7" y="505.8" font-size="12.5" text-anchor="start" >Traditional method</text>
<text x="544.3" y="565.6" font-size="20.5" text-anchor="middle" >D</text>
<text x="0" y="0" font-size="16.3" text-anchor="middle" transform="translate(377.2,425) rotate(-90)">Correlation coefficient</text>
</svg>
</body></html>
